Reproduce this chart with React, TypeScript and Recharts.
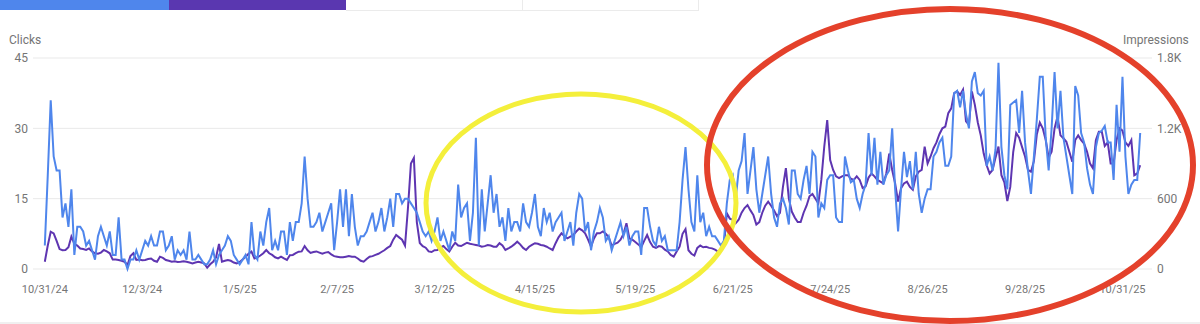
import { LineChart, Line, XAxis, YAxis, CartesianGrid } from 'recharts';

// daily values, 10/31/24 -> early Nov 2025 (index = day)
const tickDays = [0, 33, 66, 99, 132, 166, 200, 233, 266, 299, 332, 365];
const tickLabels = [
  '10/31/24', '12/3/24', '1/5/25', '2/7/25', '3/12/25', '4/15/25',
  '5/19/25', '6/21/25', '7/24/25', '8/26/25', '9/28/25', '10/31/25',
];

const clicks = [
  5, 20, 36, 24, 21, 21, 11, 14, 9, 17,
  3, 9, 9, 8, 5, 6, 4, 2, 7, 9,
  7, 5, 8, 3, 3, 11, 2, 2, 0, 2,
  2, 4, 2, 4, 6, 5, 7, 5, 5, 8,
  8, 4, 5, 7, 2, 4, 3, 4, 2, 8,
  2, 2, 3, 2, 1, 1, 2, 4, 1, 3,
  4, 5, 7, 6, 3, 2, 1, 2, 3, 1,
  10, 3, 2, 8, 5, 10, 13, 4, 6, 4,
  8, 8, 3, 10, 6, 10, 10, 14, 24, 15,
  9, 9, 10, 12, 8, 10, 12, 14, 4, 10,
  17, 9, 17, 7, 16, 9, 5, 7, 7, 8,
  10, 12, 8, 10, 13, 8, 11, 15, 9, 16,
  16, 14, 15, 15, 14, 13, 12, 10, 8, 7,
  8, 6, 8, 11, 6, 8, 6, 4, 8, 6,
  18, 11, 13, 14, 6, 12, 28, 5, 17, 8,
  14, 20, 12, 16, 9, 11, 6, 13, 8, 10,
  10, 8, 14, 10, 9, 12, 16, 9, 7, 13,
  10, 12, 8, 10, 11, 12, 6, 8, 10, 5,
  12, 16, 15, 8, 10, 4, 8, 10, 13, 11,
  6, 7, 4, 6, 8, 10, 7, 9, 5, 7,
  8, 8, 3, 13, 13, 9, 6, 5, 9, 6,
  7, 4, 4, 4, 4, 10, 19, 26, 17, 10,
  8, 20, 10, 12, 7, 9, 7, 7, 6, 5,
  6, 14, 19, 20, 15, 21, 23, 29, 16, 21,
  26, 17, 12, 16, 20, 24, 16, 11, 9, 14,
  15, 13, 9.5, 21, 21, 16, 15, 19, 22, 16,
  25, 24, 11, 14, 13, 19, 20, 20, 11, 10,
  10, 24, 21, 18.5, 19, 15, 13, 16, 18, 29,
  20, 28, 18, 25, 18, 20, 21, 30, 17, 8,
  17, 25, 19.6, 23, 17, 25, 16, 12, 15, 17,
  17, 24, 25, 27, 28, 22, 22, 24, 37.5, 38,
  34.5, 38, 33, 30, 40, 42, 37.5, 37, 38, 22,
  24, 21, 25.5, 44, 26, 20, 17, 35, 35.5, 36,
  29, 38, 27, 21, 16, 24, 32, 41, 41, 28,
  21, 30, 42, 30, 38, 28, 24, 20, 16, 39,
  37, 29, 27, 21.5, 18, 16, 26, 29, 29.5, 30.5,
  27, 27, 19, 35, 25, 41, 24, 16, 18, 19,
  19, 29,
];

const impressions = [
  62, 200, 318, 304, 240, 170, 160, 162, 185, 276,
  215, 200, 175, 170, 162, 175, 150, 134, 130, 140,
  162, 150, 134, 80, 80, 77, 70, 62, 34, 110,
  134, 77, 80, 75, 77, 85, 90, 70, 62, 105,
  95, 77, 70, 62, 65, 60, 62, 65, 62, 55,
  48, 55, 62, 55, 48, 11, 40, 62, 100, 213,
  62, 70, 77, 70, 55, 48, 60, 80, 105, 130,
  148, 90, 100, 115, 134, 162, 134, 120, 100, 90,
  105, 90, 77, 118, 120, 135, 148, 150, 196, 160,
  137, 145, 150, 140, 130, 140, 145, 125, 110, 105,
  100, 100, 105, 110, 105, 105, 90, 70, 62, 85,
  105, 110, 120, 130, 145, 160, 180, 196, 250, 290,
  270, 250, 200, 520, 900, 947, 400, 222, 195, 182,
  150, 145, 160, 162, 185, 196, 170, 150, 190, 224,
  200, 196, 210, 224, 215, 210, 205, 200, 190, 195,
  205, 200, 190, 190, 220, 200, 162, 175, 190, 210,
  233, 210, 180, 162, 190, 205, 220, 215, 205, 200,
  190, 175, 162, 220, 270, 305, 280, 262, 276, 290,
  320, 345, 330, 305, 250, 190, 260, 305, 305, 320,
  300, 270, 200, 215, 225, 250, 300, 390, 260, 250,
  230, 210, 185, 240, 290, 230, 190, 180, 195, 190,
  165, 150, 120, 105, 150, 190, 300, 340, 160, 130,
  115, 180, 200, 185, 190, 180, 176, 165, 148, 162,
  190, 475, 430, 420, 390, 420, 480, 520, 545, 500,
  460, 380, 400, 480, 540, 575, 540, 500, 450, 480,
  700, 860, 600, 490, 440, 400, 400, 480, 540, 620,
  640, 600, 560, 760, 1045, 1270, 930, 845, 790, 775,
  790, 800, 800, 770, 760, 790, 760, 690, 705, 780,
  815, 790, 760, 745, 730, 815, 985, 845, 730, 575,
  690, 730, 745, 700, 675, 790, 830, 845, 1043, 900,
  960, 1030, 1080, 1150, 1200, 1215, 1330, 1370, 1500, 1515,
  1485, 1530, 1260, 1230, 1515, 1400, 1250, 1140, 985, 885,
  815, 845, 950, 1045, 800, 740, 580, 700, 1000, 1160,
  1120, 1040, 960, 845, 830, 920, 1150, 1250, 1200, 1100,
  950, 1000, 1200, 1300, 1140, 1115, 1085, 1000, 915, 1100,
  1140, 1100, 1070, 1000, 900, 860, 1100, 1170, 1170, 1050,
  1080, 900, 900, 1100, 1200, 1180, 1080, 1050, 1100, 800,
  815, 885,
];

const data = clicks.map((c, i) => ({ day: i, clicks: c, impressions: impressions[i] }));

const formatImpressions = (v: number) => (v >= 1000 ? `${(v / 1000).toFixed(1)}K` : `${v}`);
const formatDay = (d: number) => tickLabels[tickDays.indexOf(d)] ?? '';

const axisTick = { fontSize: 12, fill: '#757575' };
const FONT = 'Roboto, "Noto Sans", sans-serif';

export default function App() {
  return (
    <div
      style={{
        position: 'absolute',
        left: 0,
        top: 0,
        width: 1200,
        height: 324,
        background: '#fff',
        overflow: 'hidden',
        fontFamily: FONT,
      }}
    >
      {/* metric tabs strip */}
      <div style={{ position: 'absolute', left: 0, top: 0, width: 169, height: 10, background: '#4f86ec' }} />
      <div style={{ position: 'absolute', left: 169, top: 0, width: 177, height: 10, background: '#5a37b0' }} />
      <div style={{ position: 'absolute', left: 346, top: 0, width: 176, height: 10, borderBottom: '1px solid #ebebeb', borderRight: '1px solid #ebebeb' }} />
      <div style={{ position: 'absolute', left: 523, top: 0, width: 175, height: 10, borderBottom: '1px solid #ebebeb', borderRight: '1px solid #ebebeb' }} />
      <div style={{ position: 'absolute', left: 0, top: 322, width: 1200, height: 2, background: '#f0f0f0' }} />

      <div style={{ position: 'absolute', left: 9, top: 33, fontSize: 12, color: '#757575' }}>Clicks</div>
      <div style={{ position: 'absolute', left: 1123, top: 33, fontSize: 12, color: '#757575' }}>Impressions</div>

      <div style={{ position: 'absolute', left: 0, top: 0 }}>
        <LineChart width={1200} height={324} data={data} margin={{ top: 58, right: 0, bottom: 25, left: 0 }}>
          <CartesianGrid yAxisId="left" vertical={false} stroke="#e9e9e9" />
          <XAxis
            dataKey="day"
            type="number"
            domain={[-4, 375]}
            ticks={tickDays}
            tickFormatter={formatDay}
            interval={0}
            axisLine={false}
            tickLine={false}
            tickSize={0}
            tickMargin={16}
            height={30}
            tick={{ fontSize: 11, fill: '#757575' }}
          />
          <YAxis
            yAxisId="left"
            domain={[0, 45]}
            ticks={[0, 15, 30, 45]}
            width={33}
            axisLine={false}
            tickLine={false}
            tickSize={0}
            tickMargin={5}
            tick={axisTick}
          />
          <YAxis
            yAxisId="right"
            orientation="right"
            domain={[0, 1800]}
            ticks={[0, 600, 1200, 1800]}
            tickFormatter={formatImpressions}
            width={48}
            axisLine={false}
            tickLine={false}
            tickSize={0}
            tickMargin={5}
            tick={{ ...axisTick, textAnchor: 'start' }}
          />
          <Line
            yAxisId="right"
            type="linear"
            dataKey="impressions"
            stroke="#5e35b1"
            strokeWidth={2}
            dot={false}
            isAnimationActive={false}
          />
          <Line
            yAxisId="left"
            type="linear"
            dataKey="clicks"
            stroke="#4f86ec"
            strokeWidth={2}
            dot={false}
            isAnimationActive={false}
          />
        </LineChart>
      </div>

      {/* hand-drawn annotation rings */}
      <svg width={1200} height={324} style={{ position: 'absolute', left: 0, top: 0, pointerEvents: 'none' }}>
        <ellipse cx={581} cy={203} rx={155} ry={109} fill="none" stroke="#f4ef3b" strokeWidth={5} />
        <ellipse cx={950} cy={165} rx={243} ry={156} fill="none" stroke="#e4412b" strokeWidth={6} />
      </svg>
    </div>
  );
}
